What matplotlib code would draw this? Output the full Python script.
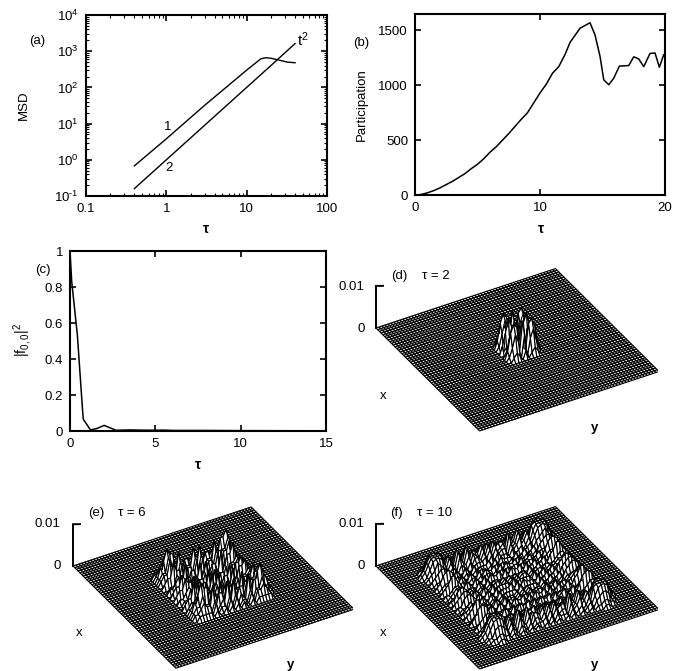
import matplotlib
matplotlib.use('Agg')
import matplotlib.pyplot as plt
import numpy as np
from mpl_toolkits.mplot3d import proj3d

plt.rcParams['font.family'] = ['Liberation Sans', 'DejaVu Sans']
plt.rcParams['mathtext.default'] = 'regular'
plt.rcParams['font.size'] = 9.5

W, H = 686, 671
NODES = 61

# (a) mean square displacement, curves 1 and 2
msd_tau_1 = [0.4, 1, 3, 10, 15, 17.3, 20, 24, 32, 40]
msd_val_1 = [0.68, 3.8, 32, 300, 615, 660, 640, 583, 500, 480]
msd_tau_2 = [0.4, 1, 2, 5, 10, 20, 40]
msd_val_2 = [0.16, 1, 4, 25, 100, 400, 1620]

# (b) participation
part_tau = [0, 0.5, 1, 1.5, 2, 2.5, 3, 3.5, 4, 4.5, 5, 5.5, 6, 6.5, 7, 7.5, 8, 8.5, 9, 9.5,
            10, 10.5, 11, 11.5, 12, 12.4, 13.2, 14, 14.4, 14.8, 15.1, 15.5, 15.9, 16.35,
            17.1, 17.5, 17.9, 18.3, 18.8, 19.2, 19.55, 19.9, 20]
part_val = [0, 5, 20, 40, 65, 95, 125, 160, 195, 240, 280, 330, 390, 440, 500, 560, 625, 690, 750, 840,
            930, 1010, 1110, 1170, 1280, 1390, 1520, 1570, 1460, 1265, 1050, 1005, 1065, 1175,
            1180, 1260, 1240, 1170, 1290, 1295, 1165, 1280, 1260]

# (c) return probability
ret_tau = [0, 0.1, 0.43, 0.74, 0.78, 1.2, 1.55, 2, 2.7, 3.5, 4, 5, 5.5, 6, 8, 10, 15]
ret_val = [1, 0.83, 0.535, 0.11, 0.065, 0.006, 0.013, 0.031, 0.004, 0.006, 0.005, 0.004, 0.005, 0.003, 0.003, 0.002, 0.001]

# (d,e,f) one quadrant of each wave packet, as digits; the unit and the cap are given per panel
quad_tau2 = ["71685200",
             "10110000",
             "61574100",
             "81786200",
             "50463100",
             "20121000",
             "00000000",
             "00000000"]
quad_tau6 = ["00000000000000000",
             "03022030334221000",
             "00000000001000000",
             "02011020223211000",
             "02011020223110000",
             "00000000000000000",
             "03022040335221000",
             "00000000000000000",
             "03022030335221000",
             "03022030335221000",
             "05133050558431000",
             "02021020224221000",
             "02011020223211000",
             "01010010111110000",
             "00000000000000000",
             "00000000000000000",
             "00000000000000000"]
quad_tau10 = ["2021110201201202344321000",
              "0000000000000000111100000",
              "2011110201201202344311000",
              "1010000100100101112110000",
              "1010110101100101223210000",
              "1010110201201101233211000",
              "0000000000000000000000000",
              "2021120201201202355321000",
              "0000000000000000111100000",
              "1010110101100101222210000",
              "2021120201201202455421000",
              "0000000000000000011000000",
              "1010010100100101122110000",
              "2021110201201202344321000",
              "0000000000000000111100000",
              "2021110201201202345321000",
              "3131220312401313578531000",
              "4141230512512414799742100",
              "4142330512512415899842100",
              "3131220312401313578531000",
              "2021110201201202344311000",
              "1010010100100101122110000",
              "0000000000000000011000000",
              "0000000000000000000000000",
              "0000000000000000000000000"]


def fx(px):
    return px / W


def fy(py):
    return 1 - py / H


def label(px, py, s, **kw):
    kw.setdefault('ha', 'center')
    kw.setdefault('va', 'center')
    fig.text(fx(px), fy(py), s, **kw)


def frame(left, right, top, bottom):
    ax = fig.add_axes([fx(left), fy(bottom), (right - left) / W, (bottom - top) / H])
    for s in ax.spines.values():
        s.set_linewidth(1.5)
    ax.tick_params(which='major', direction='in', top=True, right=True, length=4, width=1.2, pad=5)
    ax.tick_params(which='minor', direction='in', top=True, right=True, length=2, width=0.8)
    return ax


def full_grid(quad, unit, cap):
    q = np.minimum(np.array([[int(c) for c in row] for row in quad]) * unit, cap)
    z = np.vstack((q[:0:-1], q))
    z = np.hstack((z[:, :0:-1], z))
    grid = np.zeros((NODES, NODES))
    n = z.shape[0]
    start = (NODES - n) // 2
    grid[start:start + n, start:start + n] = z
    return grid


def surface(quad, unit, cap, left, right):
    # left, right are the pixel positions of the corners (0,0) and (1,1)
    ax = fig.add_axes([0.2, 0.2, 400 / W, 400 / H], projection='3d', proj_type='ortho')
    ax.view_init(elev=35, azim=-30)
    ax.set_box_aspect((1, 1, 0.248))
    ax.set_xlim(0, 1)
    ax.set_ylim(0, 1)
    ax.set_zlim(0, 0.01)
    ax.set_axis_off()
    ax.patch.set_visible(False)
    xs = np.linspace(0, 1, NODES)
    X, Y = np.meshgrid(xs, xs, indexing='ij')
    ax.plot_surface(X, Y, full_grid(quad, unit, cap), rstride=1, cstride=1, color='white', shade=False,
                    edgecolor='black', linewidth=0.8)
    ax.plot([0, 0, 0.0165], [0, 0, 0.0296], [0, 0.01, 0.01], color='black', lw=1.4, solid_joinstyle='miter')

    # scale and shift the box so the corners land where they should
    ax.apply_aspect()
    px, py, _ = proj3d.proj_transform(np.array([0.0, 1.0]), np.array([0.0, 1.0]), np.array([0.0, 0.0]), ax.get_proj())
    pts = ax.transData.transform(np.c_[px, py])
    bb = ax.get_window_extent()
    scale = (right[0] - left[0]) / (pts[1, 0] - pts[0, 0])
    side = bb.width * scale
    x0 = left[0] - (pts[0, 0] - bb.x0) * scale
    y0 = (H - left[1]) - (pts[0, 1] - bb.y0) * scale
    ax.set_position([x0 / W, y0 / H, side / W, side / H])
    return ax


fig = plt.figure(figsize=(W / 100, H / 100), dpi=100)

# (a)
ax = frame(86, 327, 15, 196)
ax.loglog(msd_tau_1, msd_val_1, color='black', lw=1)
ax.loglog(msd_tau_2, msd_val_2, color='black', lw=1)
ax.set_xlim(0.1, 100)
ax.set_ylim(0.1, 1e4)
ax.set_xticks([0.1, 1, 10, 100])
ax.set_xticklabels(['0.1', '1', '10', '100'])
ax.set_yticks([0.1, 1, 10, 100, 1000, 1e4])
ax.set_yticklabels(['10$^{\u20101}$', '10$^{0}$', '10$^{1}$', '10$^{2}$', '10$^{3}$', '10$^{4}$'])
label(37, 41, '(a)')
label(24, 105, 'MSD', rotation=90)
label(206, 229, 'τ', fontweight='bold', fontsize=10)
label(303, 40, 't$^{2}$', fontsize=11)
label(168, 127, '1')
label(169, 168, '2')

# (b)
ax = frame(415, 665, 14, 195)
ax.plot(part_tau, part_val, color='black', lw=1.1)
ax.set_xlim(0, 20)
ax.set_ylim(0, 1650)
ax.set_xticks([0, 10, 20])
ax.set_yticks([0, 500, 1000, 1500])
label(361, 43, '(b)')
label(362, 105, 'Participation', rotation=90)
label(541, 229, 'τ', fontweight='bold', fontsize=10)

# (c)
ax = frame(70, 326, 251, 431)
ax.plot(ret_tau, ret_val, color='black', lw=1.1)
ax.set_xlim(0, 15)
ax.set_ylim(0, 1)
ax.set_xticks([0, 5, 10, 15])
ax.set_yticks([0, 0.2, 0.4, 0.6, 0.8, 1])
ax.set_yticklabels(['0', '0.2', '0.4', '0.6', '0.8', '1'])
label(43, 270, '(c)')
label(23, 340, '|f$_{0,0}$|$^{2}$', rotation=90, fontsize=10)
label(198, 465, 'τ', fontweight='bold', fontsize=10)

# (d)
surface(quad_tau2, 0.001, 0.008, (376, 328), (659, 372))
label(399, 276, '(d)')
label(436, 276, 'τ = 2')
label(351, 287, '0.01')
label(361, 329, '0')
label(383, 396, 'x')
label(595, 428, 'y', fontweight='bold')

# (e)
surface(quad_tau6, 0.0012, 0.0075, (73, 566), (354, 610))
label(96, 513, '(e)')
label(132, 513, 'τ = 6')
label(47, 524, '0.01')
label(57, 566, '0')
label(79, 633, 'x')
label(291, 665, 'y', fontweight='bold')

# (f)
surface(quad_tau10, 0.0008, 0.0045, (376, 566), (659, 610))
label(396, 513, '(f)')
label(435, 513, 'τ = 10')
label(351, 524, '0.01')
label(361, 566, '0')
label(383, 633, 'x')
label(595, 665, 'y', fontweight='bold')

fig.savefig('out.png', dpi=100)
